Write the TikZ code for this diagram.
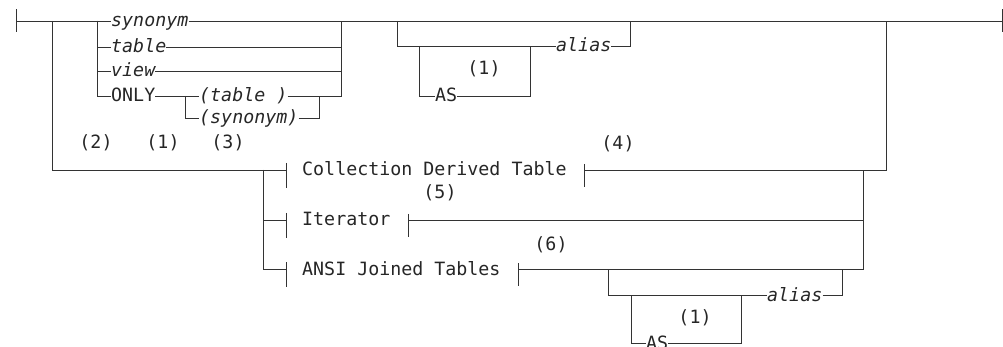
\documentclass[tikz,border=0pt]{standalone}
\usepackage{fontspec}
\setmonofont{DejaVu Sans Mono}
\tikzset{
  rail/.style={draw=black!80, line width=0.9pt},
  kw/.style={font=\ttfamily\fontsize{18.3}{22}\selectfont, text=black!85, inner sep=0pt,
    text height=14pt, text depth=2pt, anchor=west},
  var/.style={kw, font=\ttfamily\itshape\fontsize{18.3}{22}\selectfont},
  note/.style={font=\ttfamily\fontsize{18.3}{22}\selectfont, text=black!85, inner sep=0pt}
}
\begin{document}
\begin{tikzpicture}[x=1pt, y=-1pt]
  \useasboundingbox (0,0) rectangle (1003,347);
  \coordinate (start) at (16,21);
  \coordinate (stop) at (1002,21);
  % table choice
  \node[var] (syn) at (111,21) {synonym};
  \node[var] (tab) at (111,47) {table};
  \node[var] (view) at (111,71) {view};
  \node[kw] (only) at (111,96) {ONLY};
  \node[var] (ptab) at (199,96) {(table )};
  \node[var] (psyn) at (199,118) {(synonym)};
  \node[var] (alA) at (556,46) {alias};
  \node[kw] (asA) at (435,96) {AS};
  % derived tables
  \node[kw] (coll) at (302,170) {Collection Derived Table};
  \node[kw] (iter) at (302,220) {Iterator};
  \node[kw] (ansi) at (302,269) {ANSI Joined Tables};
  \node[var] (alB) at (767,295) {alias};
  \node[kw] (asB) at (646,343) {AS};
  % notes
  \node[note] (n2) at (96,143) {(2)};
  \node[note] (n1a) at (163,143) {(1)};
  \node[note] (n3) at (228,143) {(3)};
  \node[note] (n1b) at (484,69) {(1)};
  \node[note] (n4) at (618,144) {(4)};
  \node[note] (n5) at (440,193) {(5)};
  \node[note] (n6) at (551,245) {(6)};
  \node[note] (n1c) at (695,318) {(1)};

  \draw[rail] ([yshift=-11]start) -- ([yshift=12]start);
  \draw[rail] ([yshift=-11]stop) -- ([yshift=12]stop);
  \draw[rail] (start) -- (syn.west);
  \draw[rail] (syn.east) -- (stop);
  \draw[rail] (97,21) |- (tab.west);
  \draw[rail] (97,21) |- (view.west);
  \draw[rail] (97,21) |- (only.west);
  \draw[rail] (tab.east) -- (341,47);
  \draw[rail] (view.east) -- (341,71);
  \draw[rail] (only.east) -- (ptab.west);
  \draw[rail] (185,96) |- (psyn.west);
  \draw[rail] (psyn.east) -| (319,96);
  \draw[rail] (ptab.east) -| (341,21);
  \draw[rail] (397,21) |- (alA.west);
  \draw[rail] (419,46) |- (asA.west);
  \draw[rail] (asA.east) -| (530,46);
  \draw[rail] (alA.east) -| (630,21);

  \foreach \g in {coll,iter,ansi} {
    \draw[rail] ([shift={(-16,-7)}]\g.west) -- ++(0,25);
    \draw[rail] ([shift={(18,-6)}]\g.east) -- ++(0,23);
  }
  \draw[rail] (52,21) |- ([xshift=-16]coll.west);
  \draw[rail] (263,170) |- ([xshift=-16]iter.west);
  \draw[rail] (263,170) |- ([xshift=-16]ansi.west);
  \draw[rail] ([xshift=18]coll.east) -| (886,21);
  \draw[rail] ([xshift=18]iter.east) -- (863,220);
  \draw[rail] ([xshift=18]ansi.east) -| (863,170);
  \draw[rail] (608,269) |- (alB.west);
  \draw[rail] (631,295) |- (asB.west);
  \draw[rail] (asB.east) -| (741,295);
  \draw[rail] (alB.east) -| (842,269);
\end{tikzpicture}
\end{document}
